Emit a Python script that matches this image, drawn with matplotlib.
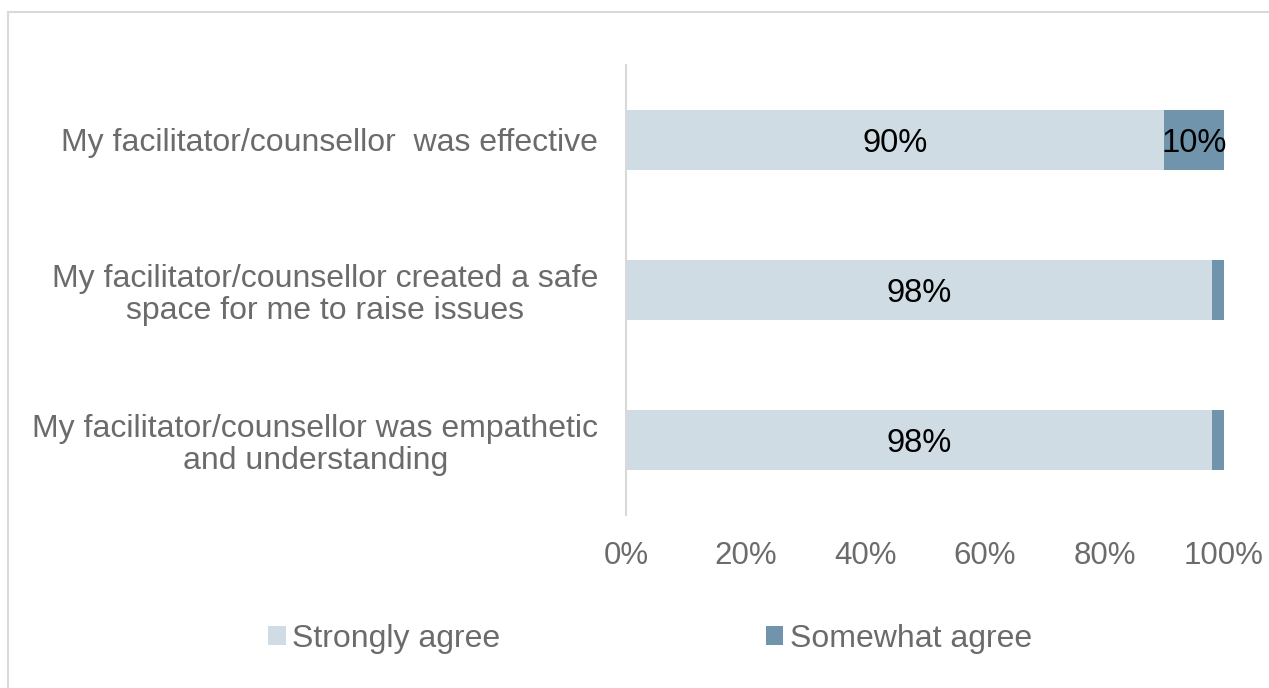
import matplotlib.pyplot as plt
from matplotlib.patches import Rectangle

plt.rcParams['font.family'] = ['Liberation Sans', 'DejaVu Sans']

# Survey statements, top to bottom
statements = [
    "My facilitator/counsellor  was effective",
    "My facilitator/counsellor created a safe\nspace for me to raise issues",
    "My facilitator/counsellor was empathetic\nand understanding",
]
strongly_agree = [90, 98, 98]
somewhat_agree = [10, 2, 2]
x_ticks = [0, 20, 40, 60, 80, 100]

light = '#CFDCE4'
dark = '#7094AC'
grey_text = '#6B6B6B'

fig = plt.figure(figsize=(12.69, 6.88), dpi=100)
# light frame around the chart area
fig.patches.append(Rectangle((8 / 1269, -0.1), 1.2, 1 - 12 / 688 + 0.1,
                             transform=fig.transFigure, fill=False,
                             edgecolor='#D9D9D9', linewidth=1.5))

ax = fig.add_axes([626 / 1269, 1 - 515 / 688, 598 / 1269, 450 / 688])

ypos = list(range(len(statements)))
b1 = ax.barh(ypos, strongly_agree, height=0.4, color=light, label='Strongly agree')
b2 = ax.barh(ypos, somewhat_agree, left=strongly_agree, height=0.4, color=dark,
             label='Somewhat agree')

for rect, v in zip(b1, strongly_agree):
    ax.text(rect.get_x() + rect.get_width() / 2, rect.get_y() + rect.get_height() / 2 + 0.02,
            f"{v}%", ha='center', va='center', fontsize=23.5, color='black')
for rect, v in zip(b2, somewhat_agree):
    if v >= 5:
        ax.text(rect.get_x() + rect.get_width() / 2, rect.get_y() + rect.get_height() / 2 + 0.02,
                f"{v}%", ha='center', va='center', fontsize=23.5, color='black')

ax.set_xlim(0, 100)
ax.set_ylim(2.5, -0.5)
ax.set_yticks(ypos)
ax.set_yticklabels(statements, fontsize=23, color=grey_text, multialignment='center',
                   linespacing=1.1)
ax.set_xticks(x_ticks)
ax.set_xticklabels([f"{t}%" for t in x_ticks], fontsize=22.5, color=grey_text)
ax.tick_params(axis='y', length=0, pad=20)
ax.tick_params(axis='x', length=0, pad=19)

for s in ['top', 'right', 'bottom']:
    ax.spines[s].set_visible(False)
ax.spines['left'].set_color('#D9D9D9')
ax.spines['left'].set_linewidth(1.5)

leg = fig.legend(handles=[b1, b2], loc='center', bbox_to_anchor=(650 / 1269, 1 - 639 / 688),
                 ncol=2, frameon=False, fontsize=23, handlelength=0.56, handleheight=0.56,
                 handletextpad=0.2, columnspacing=8.3)
for t in leg.get_texts():
    t.set_color(grey_text)

fig.savefig('out.png', dpi=100)
